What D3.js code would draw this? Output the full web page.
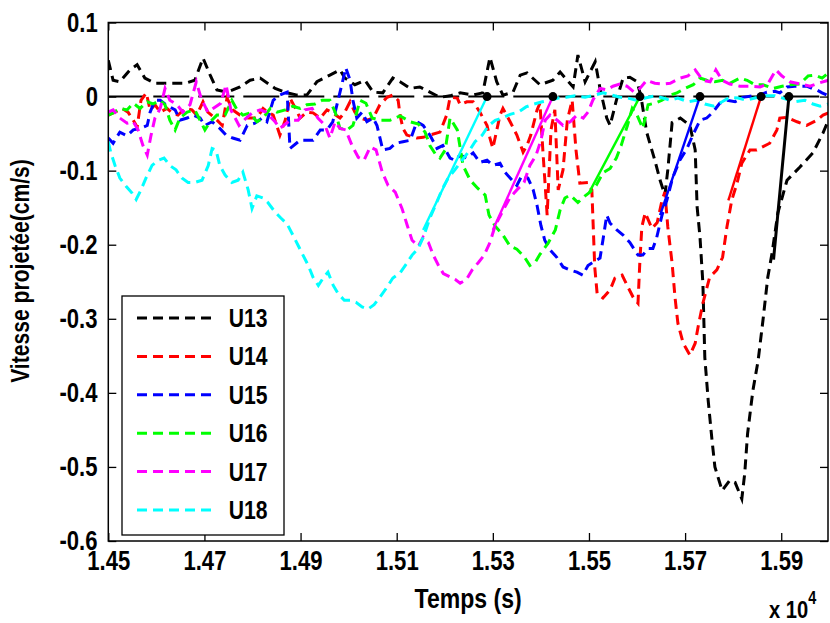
<!DOCTYPE html>
<html><head><meta charset="utf-8">
<script src="https://cdn.jsdelivr.net/npm/d3@7"></script>
<style>
body{margin:0;background:#fff}
text{font-family:"Liberation Sans",Arial,sans-serif;font-weight:bold;fill:#000}
text.tall{transform-box:fill-box;transform-origin:center;transform:scale(0.96,1.17)}
</style>
</head><body><svg id="c" width="830" height="623"></svg>
<script>
const seriesNames = ["U13","U14","U15","U16","U17","U18"];
const seriesColors = ["#000000","#ff0000","#0000ff","#00ff00","#ff00ff","#00ffff"];
const xTicks = [14500,14700,14900,15100,15300,15500,15700,15900];
const yTicks = [0.1,0,-0.1,-0.2,-0.3,-0.4,-0.5,-0.6];

const u13 = [[14500,0.049],[14510,0.022],[14524,0.020],[14545,0.036],[14560,0.043],[14576,0.025],[14597,0.018],[14628,0.018],[14660,0.018],[14680,0.022],[14697,0.052],[14712,0.029],[14726,0.009],[14747,0.006],[14774,0.013],[14795,0.022],[14816,0.025],[14847,0.011],[14872,0.005],[14893,0.002],[14913,0.002],[14934,0.020],[14961,0.029],[14982,0.036],[14992,0.025],[15013,0.016],[15034,0.022],[15051,0.006],[15071,0.005],[15092,0.025],[15107,0.020],[15128,0.011],[15148,0.013],[15169,0.006],[15190,-0.001],[15211,0.001],[15232,0.005],[15259,0.002],[15279,0.005],[15294,0.053],[15308,0.020],[15321,0.002],[15342,0.006],[15357,0.029],[15371,0.032],[15398,0.016],[15425,0.022],[15440,0.033],[15467,0.013],[15477,0.056],[15492,0.020],[15513,0.047],[15523,0.011],[15537,-0.029],[15544,-0.039],[15557,-0.005],[15571,0.025],[15585,0.026],[15600,0.020],[15608,0.001],[15620,-0.048],[15637,-0.086],[15648,-0.113],[15658,-0.133],[15664,-0.099],[15673,-0.035],[15690,-0.029],[15710,-0.039],[15721,-0.072],[15725,-0.149],[15731,-0.190],[15737,-0.252],[15741,-0.352],[15748,-0.410],[15756,-0.464],[15762,-0.500],[15777,-0.532],[15793,-0.518],[15804,-0.521],[15818,-0.543],[15824,-0.509],[15830,-0.455],[15841,-0.397],[15852,-0.356],[15862,-0.302],[15872,-0.244],[15881,-0.211],[15893,-0.157],[15912,-0.113],[15939,-0.095],[15966,-0.076],[15987,-0.049],[15998,-0.032]];

const u14 = [[14500,-0.025],[14514,-0.021],[14529,-0.016],[14541,-0.021],[14552,-0.032],[14560,-0.041],[14568,-0.005],[14579,0.005],[14587,-0.018],[14597,-0.011],[14608,-0.021],[14622,-0.016],[14633,-0.022],[14645,-0.025],[14660,-0.016],[14674,-0.018],[14684,-0.025],[14697,-0.007],[14707,-0.021],[14722,-0.029],[14737,-0.039],[14747,-0.002],[14759,-0.018],[14774,-0.025],[14791,-0.029],[14809,-0.029],[14822,-0.016],[14832,-0.021],[14843,-0.025],[14857,-0.052],[14868,-0.032],[14878,-0.002],[14891,-0.018],[14899,-0.029],[14913,-0.021],[14926,-0.022],[14941,-0.029],[14955,-0.018],[14967,-0.022],[14982,-0.029],[14992,-0.021],[15003,-0.007],[15013,-0.021],[15024,-0.029],[15038,-0.032],[15051,-0.029],[15065,-0.011],[15080,-0.001],[15092,0.002],[15103,-0.005],[15107,-0.025],[15113,-0.043],[15121,-0.052],[15142,-0.056],[15155,-0.055],[15169,-0.052],[15190,-0.048],[15204,-0.025],[15211,-0.001],[15226,-0.002],[15232,-0.011],[15246,-0.007],[15259,-0.007],[15273,-0.021],[15288,-0.039],[15294,-0.056],[15300,-0.070],[15315,-0.025],[15321,-0.016],[15336,-0.034],[15350,-0.052],[15363,-0.075],[15371,-0.066],[15379,-0.052],[15392,-0.018],[15398,-0.009],[15404,-0.072],[15413,-0.160],[15421,-0.045],[15429,-0.018],[15436,-0.126],[15446,-0.099],[15455,-0.032],[15465,-0.005],[15473,-0.072],[15481,-0.117],[15498,-0.116],[15506,-0.126],[15512,-0.230],[15517,-0.266],[15529,-0.272],[15544,-0.261],[15554,-0.245],[15569,-0.241],[15581,-0.257],[15592,-0.271],[15602,-0.279],[15606,-0.221],[15610,-0.176],[15617,-0.157],[15631,-0.178],[15642,-0.170],[15652,-0.140],[15658,-0.129],[15664,-0.176],[15673,-0.225],[15679,-0.271],[15685,-0.306],[15696,-0.333],[15710,-0.349],[15721,-0.333],[15727,-0.311],[15737,-0.279],[15751,-0.244],[15766,-0.234],[15778,-0.217],[15787,-0.176],[15797,-0.140],[15808,-0.117],[15818,-0.090],[15835,-0.072],[15849,-0.072],[15876,-0.063],[15891,-0.045],[15897,-0.029],[15912,-0.028],[15933,-0.034],[15953,-0.039],[15974,-0.032],[15987,-0.025],[15998,-0.022]];

const u15 = [[14500,-0.056],[14510,-0.063],[14524,-0.048],[14539,-0.053],[14552,-0.045],[14566,-0.043],[14581,-0.039],[14587,-0.021],[14597,-0.005],[14608,-0.005],[14618,-0.010],[14628,-0.014],[14639,-0.018],[14649,-0.032],[14664,-0.029],[14676,-0.025],[14691,-0.029],[14701,-0.039],[14716,-0.034],[14732,-0.043],[14745,-0.052],[14759,-0.056],[14774,-0.059],[14789,-0.039],[14805,-0.036],[14820,-0.029],[14830,-0.034],[14843,-0.005],[14857,0.002],[14872,0.006],[14878,-0.070],[14899,-0.059],[14913,-0.059],[14926,-0.059],[14941,-0.045],[14955,-0.045],[14967,-0.034],[14978,-0.005],[14988,0.022],[14994,0.039],[15003,0.022],[15009,-0.005],[15017,-0.029],[15028,-0.021],[15038,-0.034],[15051,-0.029],[15059,-0.039],[15071,-0.072],[15086,-0.070],[15098,-0.063],[15113,-0.061],[15128,-0.059],[15142,-0.034],[15155,-0.039],[15169,-0.052],[15184,-0.070],[15196,-0.066],[15211,-0.083],[15221,-0.086],[15232,-0.079],[15246,-0.083],[15259,-0.076],[15273,-0.089],[15288,-0.086],[15300,-0.093],[15315,-0.090],[15325,-0.102],[15336,-0.110],[15350,-0.120],[15361,-0.106],[15373,-0.110],[15384,-0.126],[15392,-0.147],[15400,-0.174],[15408,-0.194],[15419,-0.207],[15433,-0.217],[15446,-0.230],[15460,-0.234],[15475,-0.237],[15487,-0.241],[15498,-0.228],[15508,-0.224],[15523,-0.218],[15529,-0.194],[15537,-0.160],[15544,-0.171],[15558,-0.180],[15571,-0.187],[15585,-0.197],[15602,-0.214],[15612,-0.214],[15623,-0.205],[15633,-0.205],[15641,-0.190],[15652,-0.160],[15662,-0.140],[15674,-0.110],[15689,-0.086],[15704,-0.070],[15716,-0.052],[15731,-0.032],[15745,-0.029],[15758,-0.021],[15772,-0.009],[15787,-0.005],[15804,-0.007],[15820,-0.001],[15839,0.001],[15856,0.002],[15870,0.006],[15887,0.007],[15897,0.005],[15912,0.013],[15928,0.014],[15939,0.014],[15953,0.014],[15964,0.011],[15974,0.009],[15985,0.005],[15998,0.001]];

const u16 = [[14500,-0.025],[14510,-0.022],[14524,-0.016],[14539,-0.018],[14552,-0.009],[14566,-0.016],[14581,-0.007],[14593,-0.010],[14608,-0.005],[14618,-0.011],[14628,-0.032],[14639,-0.045],[14649,-0.029],[14664,-0.021],[14680,-0.018],[14691,-0.032],[14701,-0.045],[14712,-0.034],[14726,-0.025],[14743,-0.025],[14757,-0.005],[14768,-0.018],[14780,-0.025],[14795,-0.022],[14809,-0.034],[14822,-0.029],[14837,-0.016],[14851,-0.021],[14868,-0.018],[14884,-0.013],[14899,-0.016],[14913,-0.011],[14930,-0.010],[14945,-0.005],[14961,-0.005],[14972,-0.021],[14982,-0.043],[14997,-0.045],[15009,-0.039],[15024,-0.005],[15036,-0.009],[15049,-0.029],[15065,-0.032],[15086,-0.032],[15107,-0.026],[15128,-0.034],[15145,-0.037],[15159,-0.048],[15169,-0.066],[15182,-0.079],[15190,-0.083],[15201,-0.072],[15211,-0.029],[15226,-0.045],[15238,-0.093],[15253,-0.113],[15269,-0.124],[15284,-0.133],[15292,-0.160],[15305,-0.175],[15321,-0.187],[15336,-0.202],[15350,-0.206],[15365,-0.216],[15377,-0.228],[15388,-0.224],[15398,-0.213],[15415,-0.198],[15430,-0.180],[15440,-0.153],[15450,-0.137],[15461,-0.133],[15477,-0.143],[15492,-0.134],[15502,-0.129],[15515,-0.120],[15529,-0.103],[15544,-0.097],[15557,-0.083],[15567,-0.066],[15580,-0.039],[15590,-0.016],[15600,-0.025],[15612,-0.043],[15623,-0.011],[15637,-0.009],[15652,-0.005],[15669,0.002],[15683,0.005],[15700,0.011],[15717,0.016],[15731,0.025],[15745,0.022],[15762,0.020],[15778,0.022],[15793,0.018],[15814,0.025],[15829,0.022],[15845,0.016],[15862,0.016],[15883,0.011],[15902,0.014],[15918,0.016],[15939,0.017],[15956,0.028],[15970,0.029],[15985,0.025],[15998,0.032]];

const u17 = [[14500,-0.021],[14510,-0.018],[14524,-0.029],[14539,-0.036],[14552,-0.034],[14562,-0.045],[14572,-0.066],[14581,-0.079],[14589,-0.052],[14597,-0.029],[14608,-0.016],[14618,0.011],[14628,-0.005],[14643,-0.011],[14655,-0.021],[14670,-0.011],[14683,0.020],[14693,-0.002],[14707,-0.021],[14718,-0.016],[14734,-0.009],[14745,0.016],[14755,-0.018],[14772,-0.039],[14787,-0.029],[14801,-0.021],[14816,-0.018],[14828,-0.021],[14847,-0.034],[14857,-0.043],[14878,-0.032],[14895,-0.032],[14909,-0.018],[14924,-0.016],[14936,-0.029],[14951,-0.039],[14961,-0.056],[14972,-0.034],[14982,-0.043],[14994,-0.045],[15007,-0.066],[15020,-0.082],[15032,-0.086],[15045,-0.068],[15057,-0.072],[15070,-0.102],[15082,-0.120],[15097,-0.129],[15111,-0.151],[15122,-0.174],[15132,-0.194],[15145,-0.202],[15155,-0.190],[15166,-0.197],[15176,-0.214],[15187,-0.228],[15197,-0.239],[15210,-0.243],[15222,-0.247],[15232,-0.252],[15245,-0.247],[15257,-0.234],[15270,-0.224],[15282,-0.214],[15294,-0.197],[15305,-0.174],[15321,-0.154],[15336,-0.136],[15350,-0.126],[15365,-0.116],[15377,-0.093],[15390,-0.079],[15400,-0.059],[15409,-0.032],[15419,-0.025],[15434,-0.032],[15446,-0.039],[15461,-0.034],[15475,-0.025],[15488,-0.029],[15498,-0.021],[15508,-0.005],[15523,0.011],[15537,0.009],[15550,0.014],[15564,0.017],[15579,0.014],[15594,0.006],[15606,0.011],[15620,0.022],[15637,0.018],[15654,0.017],[15669,0.018],[15690,0.025],[15706,0.028],[15721,0.036],[15737,0.022],[15752,0.020],[15764,0.036],[15777,0.022],[15793,0.017],[15814,0.014],[15835,0.014],[15856,0.013],[15872,0.017],[15889,0.036],[15901,0.028],[15918,0.020],[15939,0.017],[15960,0.014],[15977,0.018],[15998,0.022]];

const u18 = [[14500,-0.061],[14505,-0.075],[14514,-0.093],[14524,-0.110],[14537,-0.121],[14549,-0.130],[14558,-0.139],[14568,-0.126],[14579,-0.109],[14591,-0.093],[14604,-0.086],[14616,-0.083],[14628,-0.093],[14641,-0.099],[14653,-0.110],[14666,-0.116],[14680,-0.116],[14695,-0.113],[14708,-0.093],[14716,-0.070],[14724,-0.072],[14732,-0.093],[14743,-0.106],[14757,-0.116],[14770,-0.113],[14780,-0.102],[14791,-0.126],[14799,-0.151],[14809,-0.134],[14822,-0.137],[14832,-0.143],[14847,-0.156],[14859,-0.164],[14872,-0.172],[14884,-0.187],[14895,-0.201],[14905,-0.214],[14916,-0.228],[14926,-0.244],[14937,-0.255],[14947,-0.245],[14957,-0.237],[14968,-0.255],[14978,-0.266],[14991,-0.275],[15003,-0.275],[15016,-0.278],[15028,-0.284],[15040,-0.287],[15053,-0.281],[15065,-0.271],[15078,-0.259],[15092,-0.245],[15107,-0.238],[15120,-0.226],[15132,-0.214],[15145,-0.205],[15157,-0.187],[15169,-0.164],[15182,-0.145],[15194,-0.126],[15207,-0.110],[15221,-0.099],[15236,-0.086],[15249,-0.075],[15263,-0.061],[15278,-0.052],[15290,-0.040],[15305,-0.032],[15319,-0.029],[15336,-0.024],[15353,-0.021],[15369,-0.014],[15386,-0.010],[15403,-0.007],[15419,-0.005],[15436,-0.002],[15453,-0.001],[15471,0.001],[15492,-0.001],[15511,0.002],[15530,0.005],[15548,0.002],[15565,-0.001],[15581,-0.002],[15598,-0.005],[15617,-0.002],[15637,0.001],[15654,-0.002],[15669,-0.005],[15685,-0.002],[15706,-0.007],[15723,-0.005],[15741,-0.010],[15760,-0.013],[15777,-0.007],[15793,-0.001],[15810,-0.002],[15827,-0.005],[15845,-0.002],[15866,0.001],[15887,0.001],[15908,-0.003],[15928,-0.007],[15949,-0.005],[15966,-0.010],[15981,-0.013],[15998,-0.010]];

// arrival times (where the fitted rise reaches zero) and start of the fitted rise, per series
const arrivalT = [15916,15858,15731,15606,15425,15288];
const riseStartT = [15884,15790,15648,15500,15300,15155];
const riseStartV = [-0.22,-0.14,-0.16,-0.13,-0.18,-0.18];

const seriesData = [u13,u14,u15,u16,u17,u18];

const svg = d3.select("#c");
const W = 830, H = 623;
svg.append("rect").attr("width",W).attr("height",H).attr("fill","#fff");

const x = d3.scaleLinear().domain([14500,16000]).range([108.3,829.3]);
const y = d3.scaleLinear().domain([-0.6,0.1]).range([541,22.5]);
const xR = 828, yB = 541, yT = 22.5, xL = 108.3;

svg.append("defs").append("clipPath").attr("id","clip")
  .append("rect").attr("x",xL).attr("y",yT).attr("width",xR-xL).attr("height",yB-yT);

const plot = svg.append("g").attr("clip-path","url(#clip)");
const line = d3.line().x(d=>x(d[0])).y(d=>y(d[1]));

// zero reference line
plot.append("path").datum([[14500,0],[16000,0]]).attr("d",line)
  .attr("stroke","#000").attr("stroke-width",2).attr("fill","none")
  .attr("stroke-dasharray","36,9");

seriesData.forEach((s,i)=>{
  plot.append("path").datum(s).attr("d",line)
    .attr("fill","none").attr("stroke",seriesColors[i])
    .attr("stroke-width",3).attr("stroke-dasharray","10,6");
});

// fitted rise lines and arrival dots
seriesData.forEach((s,i)=>{
  plot.append("path").datum([[riseStartT[i],riseStartV[i]],[arrivalT[i],0]]).attr("d",line)
    .attr("fill","none").attr("stroke",seriesColors[i]).attr("stroke-width",i===0?3:2.4);
});
seriesData.forEach((s,i)=>{
  plot.append("circle").attr("cx",x(arrivalT[i])).attr("cy",y(0)).attr("r",4.5).attr("fill","#000");
});

// axes
const fmtX = d=>(d/10000).toFixed(2);
const fmtY = d=>(Math.abs(d)<1e-9?"0":d.toFixed(1));
const axB = svg.append("g").attr("transform",`translate(0,${yB})`)
  .call(d3.axisBottom(x).tickValues(xTicks).tickFormat(fmtX).tickSizeInner(-8).tickSizeOuter(0).tickPadding(11));
const axT = svg.append("g").attr("transform",`translate(0,${yT})`)
  .call(d3.axisTop(x).tickValues(xTicks).tickFormat("").tickSizeInner(-8).tickSizeOuter(0));
const axL = svg.append("g").attr("transform",`translate(${xL},0)`)
  .call(d3.axisLeft(y).tickValues(yTicks).tickFormat(fmtY).tickSizeInner(-8).tickSizeOuter(0).tickPadding(10));
const axRt = svg.append("g").attr("transform",`translate(${xR},0)`)
  .call(d3.axisRight(y).tickValues(yTicks).tickFormat("").tickSizeInner(-8).tickSizeOuter(0));
[axB,axT,axL,axRt].forEach(a=>{
  a.select(".domain").remove();
  a.selectAll("line").attr("stroke","#000").attr("stroke-width",1.3);
  a.selectAll("text").attr("class","tall").style("font-size","23px").style("font-family",'"Liberation Sans",Arial,sans-serif').style("font-weight","bold").attr("fill","#000");
});
svg.append("rect").attr("x",xL).attr("y",yT).attr("width",xR-xL).attr("height",yB-yT)
  .attr("fill","none").attr("stroke","#000").attr("stroke-width",1.5);

// labels
svg.append("text").attr("class","tall").attr("x",(xL+xR)/2).attr("y",607).attr("text-anchor","middle")
  .style("font-size","24px").text("Temps (s)");
svg.append("g").attr("transform","translate(28,271) rotate(-90)")
  .append("text").attr("class","tall").attr("text-anchor","middle")
  .style("font-size","22px").text("Vitesse projetée(cm/s)");
const ex = svg.append("text").attr("class","tall").attr("x",768).attr("y",616).style("font-size","21px");
ex.append("tspan").text("x 10");
ex.append("tspan").attr("dy",-12).style("font-size","15px").text("4");

// legend
const lg = svg.append("g");
lg.append("rect").attr("x",122).attr("y",296).attr("width",162).attr("height",239)
  .attr("fill","#fff").attr("stroke","#000").attr("stroke-width",1.3);
seriesNames.forEach((n,i)=>{
  const yy = 318 + i*38.4;
  lg.append("line").attr("x1",137).attr("x2",212).attr("y1",yy).attr("y2",yy)
    .attr("stroke",seriesColors[i]).attr("stroke-width",3).attr("stroke-dasharray","10,6");
  lg.append("text").attr("class","tall").attr("x",228).attr("y",yy).attr("dy","0.35em").style("font-size","22px").text(n);
});
</script></body></html>
